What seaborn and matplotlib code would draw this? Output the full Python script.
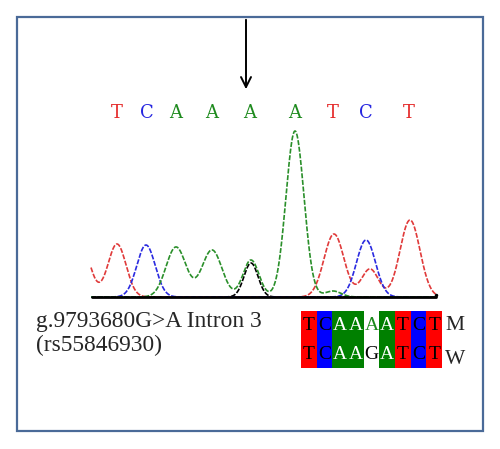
import matplotlib
matplotlib.use("Agg")
import matplotlib.pyplot as plt
import numpy as np
import seaborn as sns
from matplotlib.colors import ListedColormap
from matplotlib.patches import Rectangle

# Пики хроматограммы (центр, высота, ширина) в пикселях картинки
red_peaks = [(80, 56, 9.5), (117, 53, 9), (334, 63, 10), (370, 28, 8.5), (410, 77, 10)]
blue_peaks = [(146, 52, 9.2), (366, 57, 9.5)]
green_peaks = [(176, 50, 10), (212, 47, 10), (251, 37, 8), (295, 166, 9), (333, 6, 8)]
black_peaks = [(251, 34, 7)]

# Буквы над пиками
top_bases = ['T', 'C', 'A', 'A', 'A', 'A', 'T', 'C', 'T']
top_x = [117, 147, 176, 212, 250, 295, 333, 366, 409]

# Выравнивание: мутант (M) и дикий тип (W)
seq_m = ['T', 'C', 'A', 'A', 'A', 'A', 'T', 'C', 'T']
seq_w = ['T', 'C', 'A', 'A', 'G', 'A', 'T', 'C', 'T']
cell_codes = [0, 1, 2, 2, 3, 2, 0, 1, 0]  # 0 красный, 1 синий, 2 зелёный, 3 белый

base_colors = {'T': '#e52b2b', 'C': '#2626e0', 'A': '#1d8a1d', 'G': 'black'}

sns.set_style("white")
fig = plt.figure(figsize=(5, 4.49), dpi=100)
ax = fig.add_axes([0, 0, 1, 1])
ax.set_xlim(0, 500)
ax.set_ylim(449, 0)
ax.axis('off')

baseline = 297
xs = np.linspace(91, 436, 900)


def trace(peaks):
    y = np.zeros_like(xs)
    for c, h, s in peaks:
        y += h * np.exp(-(xs - c) ** 2 / (2 * s ** 2))
    return baseline - y


for peaks, col in [(black_peaks, 'black'), (red_peaks, '#e03a3a'),
                   (blue_peaks, '#2a2ae0'), (green_peaks, '#2a8f2a')]:
    sns.lineplot(x=xs, y=trace(peaks), ax=ax, color=col, lw=1.2,
                 linestyle=(0, (3, 1)), sort=False, estimator=None)

ax.plot([92, 436], [baseline, baseline], color='black', lw=2)
ax.plot([436], [baseline - 2], marker='.', color='black', ms=3)

for b, x in zip(top_bases, top_x):
    ax.text(x, 113, b, color=base_colors[b], fontsize=13, family='DejaVu Serif',
            ha='center', va='center')

# рамка и стрелка
ax.add_patch(Rectangle((17, 17), 466, 414, fill=False, edgecolor='#4a6a98', lw=1.6))
ax.annotate('', xy=(246, 92), xytext=(246, 17),
            arrowprops=dict(arrowstyle='->', color='black', lw=1.4, mutation_scale=18))

ax.text(36, 322, 'g.9793680G>A Intron 3', fontsize=16.8, family='Liberation Serif',
        ha='left', va='center')
ax.text(36, 345, '(rs55846930)', fontsize=16.8, family='Liberation Serif',
        ha='left', va='center')

# выравнивание через heatmap
hax = fig.add_axes([301 / 500, 1 - 368 / 449, 141 / 500, 57 / 449])
cmap = ListedColormap(['#ff0000', '#0000ff', '#008000', '#ffffff'])
sns.heatmap(np.array([cell_codes, cell_codes]), ax=hax, cmap=cmap, vmin=-0.5, vmax=3.5,
            cbar=False, xticklabels=False, yticklabels=False)
for row, seq in enumerate([seq_m, seq_w]):
    for i, b in enumerate(seq):
        code = cell_codes[i]
        if code == 2:
            col = 'white'
        elif code == 3:
            col = base_colors[b]
        else:
            col = 'black'
        hax.text(i + 0.5, row + 0.52, b, color=col, fontsize=14, family='Liberation Serif',
                 ha='center', va='center')

ax.text(445, 325, 'M', fontsize=15.5, family='Liberation Serif', ha='left', va='center')
ax.text(445, 359, 'W', fontsize=15.5, family='Liberation Serif', ha='left', va='center')

fig.savefig('out.png', dpi=100)
